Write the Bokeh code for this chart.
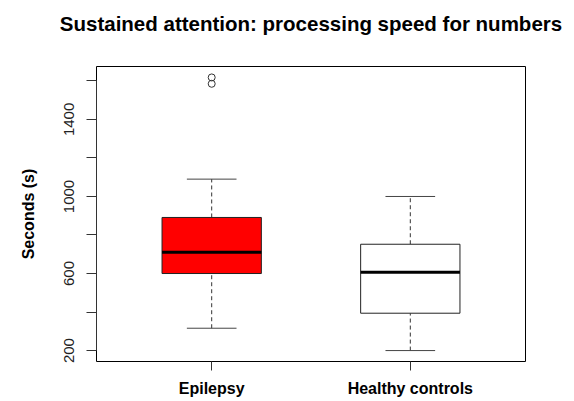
from bokeh.plotting import figure
from bokeh.models import FixedTicker, ColumnDataSource, LinearAxis
from bokeh.embed import file_html
from bokeh.resources import INLINE

# Summary statistics for each group (seconds)
groups = ["Epilepsy", "Healthy controls"]
lower_whisker = [316, 200]
q1 = [600, 394]
median = [711, 607]
q3 = [891, 752]
upper_whisker = [1090, 1000]
box_colors = ["#FF0000", "#FFFFFF"]

# Outlying observations
outlier_group = [1, 1]
outlier_values = [1585, 1618]

# Y-axis ticks: every 200 s, labels on every other tick
y_ticks = [200, 400, 600, 800, 1000, 1200, 1400, 1600]
y_tick_labels = ["200", "", "600", "", "1000", "", "1400", ""]

title_text = "Sustained attention: processing speed for numbers"
y_label = "Seconds (s)"

positions = [i + 1 for i in range(len(groups))]
box_width = 0.5
cap_width = box_width / 2

# R-style 4% padding around the data range
all_vals = lower_whisker + upper_whisker + outlier_values
lo, hi = min(all_vals), max(all_vals)
pad = 0.04 * (hi - lo)
x_lo, x_hi = 0.5, len(groups) + 0.5
x_pad = 0.04 * (x_hi - x_lo)

p = figure(
    width=574, height=401,
    x_range=(x_lo - x_pad, x_hi + x_pad),
    y_range=(lo - pad, hi + pad),
    output_backend="svg", toolbar_location=None,
    min_border_left=96, min_border_right=49,
    min_border_top=66, min_border_bottom=40,
)

p.xgrid.visible = False
p.ygrid.visible = False
p.outline_line_color = "black"
p.outline_line_width = 1
p.background_fill_color = "white"
p.border_fill_color = "white"

xa = p.below[0]
ya = p.left[0]

# Main title: a bare axis along the top carries it as its label,
# centred over the plotting frame
title_axis = LinearAxis(ticker=FixedTicker(ticks=[]), axis_label=title_text)
title_axis.axis_line_color = None
title_axis.major_tick_line_color = None
title_axis.minor_tick_line_color = None
title_axis.major_tick_out = 0
title_axis.major_tick_in = 0
title_axis.major_label_standoff = 0
title_axis.major_label_text_font_size = "0px"
title_axis.axis_label_standoff = 32
title_axis.axis_label_text_font = "Liberation Sans"
title_axis.axis_label_text_font_size = "20.5px"
title_axis.axis_label_text_font_style = "bold"
title_axis.axis_label_text_color = "black"
p.add_layout(title_axis, "above")

src = ColumnDataSource(dict(
    x=positions, lw=lower_whisker, q1=q1, med=median, q3=q3, uw=upper_whisker,
    color=box_colors,
    cap_l=[x - cap_width / 2 for x in positions],
    cap_r=[x + cap_width / 2 for x in positions],
    box_l=[x - box_width / 2 for x in positions],
    box_r=[x + box_width / 2 for x in positions],
))

# Dashed whiskers
p.segment(x0="x", y0="q3", x1="x", y1="uw", source=src,
          line_color="#333333", line_width=1, line_dash="4 3")
p.segment(x0="x", y0="lw", x1="x", y1="q1", source=src,
          line_color="#333333", line_width=1, line_dash="4 3")
# Whisker caps
p.segment(x0="cap_l", y0="uw", x1="cap_r", y1="uw", source=src,
          line_color="#444444", line_width=1)
p.segment(x0="cap_l", y0="lw", x1="cap_r", y1="lw", source=src,
          line_color="#444444", line_width=1)
# Boxes
p.vbar(x="x", width=box_width, bottom="q1", top="q3", source=src,
       fill_color="color", line_color="#222222", line_width=1)
# Medians
p.segment(x0="box_l", y0="med", x1="box_r", y1="med", source=src,
          line_color="black", line_width=3)
# Outliers
p.scatter(x=outlier_group, y=outlier_values, marker="circle", size=7,
          fill_color=None, line_color="#333333", line_width=1)

# Category axis along the bottom
xa.ticker = FixedTicker(ticks=positions)
xa.major_label_overrides = {pos: g for pos, g in zip(positions, groups)}
xa.axis_line_color = None
xa.minor_tick_line_color = None
xa.major_tick_in = 0
xa.major_tick_out = 9
xa.major_tick_line_color = "#333333"
xa.major_label_text_font = "Liberation Sans"
xa.major_label_text_font_size = "16px"
xa.major_label_text_font_style = "bold"
xa.major_label_text_color = "black"
xa.major_label_standoff = 9

# Value axis on the left
ya.ticker = FixedTicker(ticks=y_ticks)
ya.major_label_overrides = {t: lab for t, lab in zip(y_ticks, y_tick_labels)}
ya.bounds = (y_ticks[0], y_ticks[-1])
ya.axis_line_color = "#333333"
ya.minor_tick_line_color = None
ya.major_tick_in = 0
ya.major_tick_out = 10
ya.major_tick_line_color = "#333333"
ya.major_label_orientation = "vertical"
ya.major_label_text_font = "Liberation Sans"
ya.major_label_text_font_size = "15px"
ya.major_label_text_color = "#222222"
ya.major_label_standoff = 12
ya.axis_label = y_label
ya.axis_label_text_font = "Liberation Sans"
ya.axis_label_text_font_size = "16px"
ya.axis_label_text_font_style = "bold"
ya.axis_label_text_color = "black"
ya.axis_label_standoff = 25

open("out.html", "w").write(file_html(p, INLINE))
